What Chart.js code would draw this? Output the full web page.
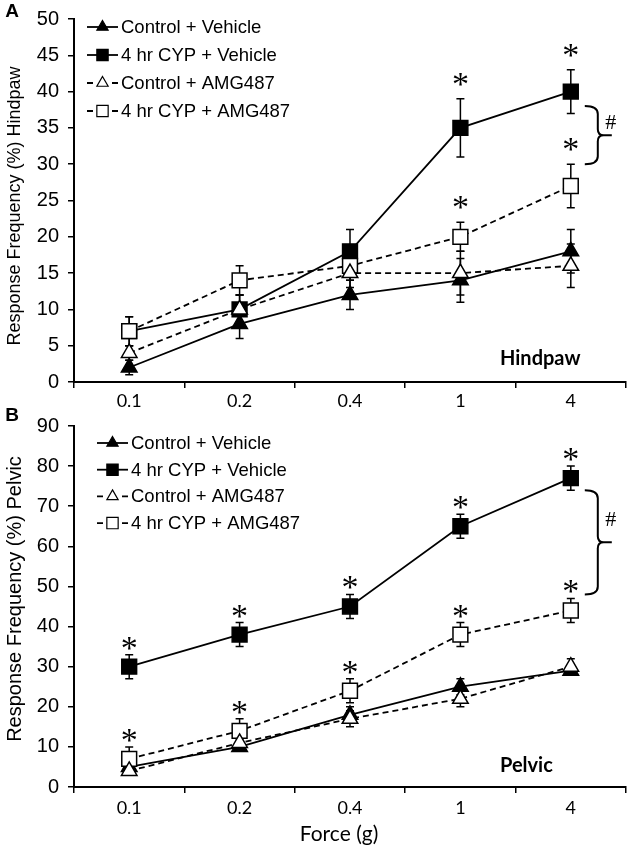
<!DOCTYPE html>
<html>
<head>
<meta charset="utf-8">
<script src="https://cdn.jsdelivr.net/npm/chart.js@4.4.0/dist/chart.umd.min.js"></script>
<style>
  html, body { margin: 0; padding: 0; background: #fff; }
  .box { position: absolute; left: 0; width: 638px; }
  #boxA { top: 0; height: 420px; }
  #boxB { top: 400px; height: 448px; }
</style>
</head>
<body>
<div class="box" id="boxA"><canvas id="chartA"></canvas></div>
<div class="box" id="boxB"><canvas id="chartB"></canvas></div>
<script>
const forceLabels = ['0.1', '0.2', '0.4', '1', '4'];
const groupNames = ['Control + Vehicle', '4 hr CYP + Vehicle', 'Control + AMG487', '4 hr CYP + AMG487'];

// Panel A - hindpaw (mean, error)
const hindCtrlVeh = [2, 8, 12, 14, 18];
const hindCypVeh = [7, 10, 18, 35, 40];
const hindCtrlAmg = [4, 10, 15, 15, 16];
const hindCypAmg = [7, 14, 16, 20, 27];
const hindCtrlVehErr = [1, 2, 2, 3, 3];
const hindCypVehErr = [2, 2, 3, 4, 3];
const hindCtrlAmgErr = [1, 2, 2, 3, 3];
const hindCypAmgErr = [2, 2, 2, 2, 3];
const hindCypVehSig = [false, false, false, true, true];
const hindCypAmgSig = [false, false, false, true, true];
const hindBracket = [38, 30];

// Panel B - pelvic
const pelvCtrlVeh = [5, 10, 18, 25, 29];
const pelvCypVeh = [30, 38, 45, 65, 77];
const pelvCtrlAmg = [4, 11, 17, 22, 30];
const pelvCypAmg = [7, 14, 24, 38, 44];
const pelvCtrlVehErr = [1, 1, 2, 2, 1];
const pelvCypVehErr = [3, 3, 3, 3, 3];
const pelvCtrlAmgErr = [1, 1, 2, 2, 2];
const pelvCypAmgErr = [3, 3, 3, 3, 3];
const pelvCypVehSig = [true, true, true, true, true];
const pelvCypAmgSig = [true, true, true, true, true];
const pelvBracket = [74, 48];

const markerStyles = [
    { shape: 'triangle', fill: '#000', dash: [] },
    { shape: 'rect', fill: '#000', dash: [] },
    { shape: 'triangle', fill: '#fff', dash: [6, 4] },
    { shape: 'rect', fill: '#fff', dash: [6, 4] }
];

const sansFont = '"Liberation Sans", Arial, sans-serif';
const tickFont = 'Lato, "Open Sans", sans-serif';

// small marker for the legend
function drawMarker(ctx, shape, x, y, r) {
    ctx.beginPath();
    if (shape === 'triangle') {
        ctx.moveTo(x, y - r);
        ctx.lineTo(x + r * 0.866, y + r / 2);
        ctx.lineTo(x - r * 0.866, y + r / 2);
        ctx.closePath();
    } else {
        const h = r * Math.SQRT1_2;
        ctx.rect(x - h, y - h, 2 * h, 2 * h);
    }
    ctx.fill();
    ctx.stroke();
}

function drawBrace(ctx, x, yTop, yBot) {
    const ym = (yTop + yBot) / 2;
    ctx.beginPath();
    ctx.moveTo(x, yTop);
    ctx.quadraticCurveTo(x + 13, yTop, x + 13, yTop + 8);
    ctx.lineTo(x + 13, ym - 6);
    ctx.quadraticCurveTo(x + 13, ym, x + 19, ym);
    ctx.lineTo(x + 27, ym);
    ctx.moveTo(x + 19, ym);
    ctx.quadraticCurveTo(x + 13, ym, x + 13, ym + 6);
    ctx.lineTo(x + 13, yBot - 8);
    ctx.quadraticCurveTo(x + 13, yBot, x, yBot);
    ctx.stroke();
}

function makeOverlay(cfg) {
    return {
        id: 'overlay' + cfg.letter,
        // error bars under the markers
        beforeDatasetsDraw(chart) {
            const ctx = chart.ctx;
            const yScale = chart.scales.y;
            ctx.save();
            ctx.strokeStyle = '#000';
            ctx.lineWidth = 1.5;
            chart.data.datasets.forEach((ds, i) => {
                chart.getDatasetMeta(i).data.forEach((pt, j) => {
                    const top = yScale.getPixelForValue(ds.data[j] + cfg.errors[i][j]);
                    const bot = yScale.getPixelForValue(ds.data[j] - cfg.errors[i][j]);
                    ctx.beginPath();
                    ctx.moveTo(pt.x, top); ctx.lineTo(pt.x, bot);
                    ctx.moveTo(pt.x - 4, top); ctx.lineTo(pt.x + 4, top);
                    ctx.moveTo(pt.x - 4, bot); ctx.lineTo(pt.x + 4, bot);
                    ctx.stroke();
                });
            });
            ctx.restore();
        },
        afterDraw(chart) {
            const ctx = chart.ctx;
            const yScale = chart.scales.y;
            ctx.save();
            ctx.fillStyle = '#000';
            ctx.strokeStyle = '#000';

            // asterisks
            ctx.font = '34px "Liberation Serif", serif';
            ctx.textAlign = 'center';
            ctx.textBaseline = 'alphabetic';
            cfg.stars.forEach(([i, flags]) => {
                const ds = chart.data.datasets[i];
                chart.getDatasetMeta(i).data.forEach((pt, j) => {
                    if (!flags[j]) return;
                    const top = yScale.getPixelForValue(ds.data[j] + cfg.errors[i][j]);
                    ctx.fillText('*', pt.x, top - cfg.starGap + 16);
                });
            });

            // bracket + #
            const lastPt = chart.getDatasetMeta(1).data[forceLabels.length - 1];
            const bTop = yScale.getPixelForValue(cfg.bracket[0]);
            const bBot = yScale.getPixelForValue(cfg.bracket[1]);
            ctx.lineWidth = 2;
            drawBrace(ctx, lastPt.x + 14, bTop, bBot);
            ctx.font = '22px "Liberation Serif", serif';
            ctx.fillText('#', lastPt.x + 40, (bTop + bBot) / 2 - (bBot - bTop) * 0.22 + 7);

            // legend
            ctx.font = '18.5px ' + sansFont;
            ctx.textAlign = 'left';
            ctx.textBaseline = 'middle';
            groupNames.forEach((name, i) => {
                const st = markerStyles[i];
                const x0 = cfg.legendX, y0 = cfg.legendY + i * cfg.legendGap;
                ctx.lineWidth = 1.8;
                ctx.beginPath();
                if (st.dash.length) {
                    ctx.moveTo(x0, y0); ctx.lineTo(x0 + 6, y0);
                    ctx.moveTo(x0 + 25, y0); ctx.lineTo(x0 + 31, y0);
                } else {
                    ctx.moveTo(x0, y0); ctx.lineTo(x0 + 31, y0);
                }
                ctx.stroke();
                ctx.fillStyle = st.fill;
                ctx.lineWidth = 1.2;
                drawMarker(ctx, st.shape, x0 + 15.5, y0, st.shape === 'rect' ? 8 : 6.5);
                ctx.fillStyle = '#000';
                ctx.fillText(name, x0 + 34, y0 + 1);
            });

            // panel letter
            ctx.font = 'bold 19px ' + sansFont;
            ctx.textAlign = 'center';
            ctx.fillText(cfg.letter, 12, cfg.letterY);

            // region label
            ctx.font = 'bold 20px ' + tickFont;
            ctx.textAlign = 'left';
            ctx.textBaseline = 'alphabetic';
            ctx.fillText(cfg.region, 500, cfg.regionY);

            // y axis title
            ctx.save();
            ctx.translate(15, cfg.yTitleY);
            ctx.rotate(-Math.PI / 2);
            ctx.font = cfg.yTitleSize + 'px ' + sansFont;
            ctx.textAlign = 'center';
            ctx.textBaseline = 'middle';
            ctx.fillText(cfg.yTitle, 0, 0);
            ctx.restore();

            // x axis title
            if (cfg.xTitle) {
                ctx.font = '21px ' + tickFont;
                ctx.textAlign = 'center';
                ctx.textBaseline = 'middle';
                ctx.fillText(cfg.xTitle, 339, cfg.xTitleY);
            }
            ctx.restore();
        }
    };
}

function buildDatasets(series) {
    return series.map((vals, i) => ({
        label: groupNames[i],
        data: vals,
        borderColor: '#000',
        borderWidth: 1.8,
        borderDash: markerStyles[i].dash,
        pointStyle: markerStyles[i].shape,
        pointRadius: markerStyles[i].shape === 'rect' ? 10.5 : 9,
        pointBackgroundColor: markerStyles[i].fill,
        pointBorderColor: '#000',
        pointBorderWidth: 1.5,
        fill: false,
        tension: 0,
        order: i < 2 ? 1 : 0
    }));
}

function makePanel(canvasId, series, cfg) {
    return new Chart(document.getElementById(canvasId), {
        type: 'line',
        data: { labels: forceLabels, datasets: buildDatasets(series) },
        options: {
            responsive: true,
            maintainAspectRatio: false,
            animation: false,
            layout: { padding: { top: cfg.padTop, right: 4, left: 0, bottom: 0 } },
            plugins: { legend: { display: false }, tooltip: { enabled: false } },
            scales: {
                x: {
                    offset: true,
                    grid: { offset: true, drawOnChartArea: false, tickLength: 6, color: '#000', lineWidth: 1.5 },
                    border: { color: '#000', width: 2 },
                    ticks: { color: '#000', font: { family: tickFont, size: 18 }, padding: cfg.xPad },
                    afterFit: s => { s.height = cfg.xHeight; }
                },
                y: {
                    min: 0,
                    max: cfg.yMax,
                    grid: { drawOnChartArea: false, tickLength: 6, color: '#000', lineWidth: 1.5 },
                    border: { color: '#000', width: 2 },
                    ticks: { stepSize: cfg.yStep, color: '#000', font: { family: sansFont, size: 20, lineHeight: 1 }, padding: 9 },
                    afterFit: s => { s.width = 74; }
                }
            }
        },
        plugins: [makeOverlay(cfg)]
    });
}

makePanel('chartA', [hindCtrlVeh, hindCypVeh, hindCtrlAmg, hindCypAmg], {
    letter: 'A', letterY: 12,
    region: 'Hindpaw', regionY: 365,
    yTitle: 'Response Frequency (%) Hindpaw', yTitleSize: 18, yTitleY: 206,
    yMax: 50, yStep: 5, padTop: 10, xHeight: 38, xPad: 2,
    legendX: 87, legendY: 27, legendGap: 28,
    errors: [hindCtrlVehErr, hindCypVehErr, hindCtrlAmgErr, hindCypAmgErr],
    stars: [[1, hindCypVehSig], [3, hindCypAmgSig]], starGap: 20,
    bracket: hindBracket
});

makePanel('chartB', [pelvCtrlVeh, pelvCypVeh, pelvCtrlAmg, pelvCypAmg], {
    letter: 'B', letterY: 15.5,
    region: 'Pelvic', regionY: 372,
    yTitle: 'Response Frequency (%) Pelvic', yTitleSize: 20, yTitleY: 199,
    yMax: 90, yStep: 10, padTop: 26, xHeight: 61, xPad: 4,
    legendX: 97, legendY: 43, legendGap: 26.7,
    errors: [pelvCtrlVehErr, pelvCypVehErr, pelvCtrlAmgErr, pelvCypAmgErr],
    stars: [[1, pelvCypVehSig], [3, pelvCypAmgSig]], starGap: 12,
    bracket: pelvBracket,
    xTitle: 'Force (g)', xTitleY: 434
});
</script>
</body>
</html>
